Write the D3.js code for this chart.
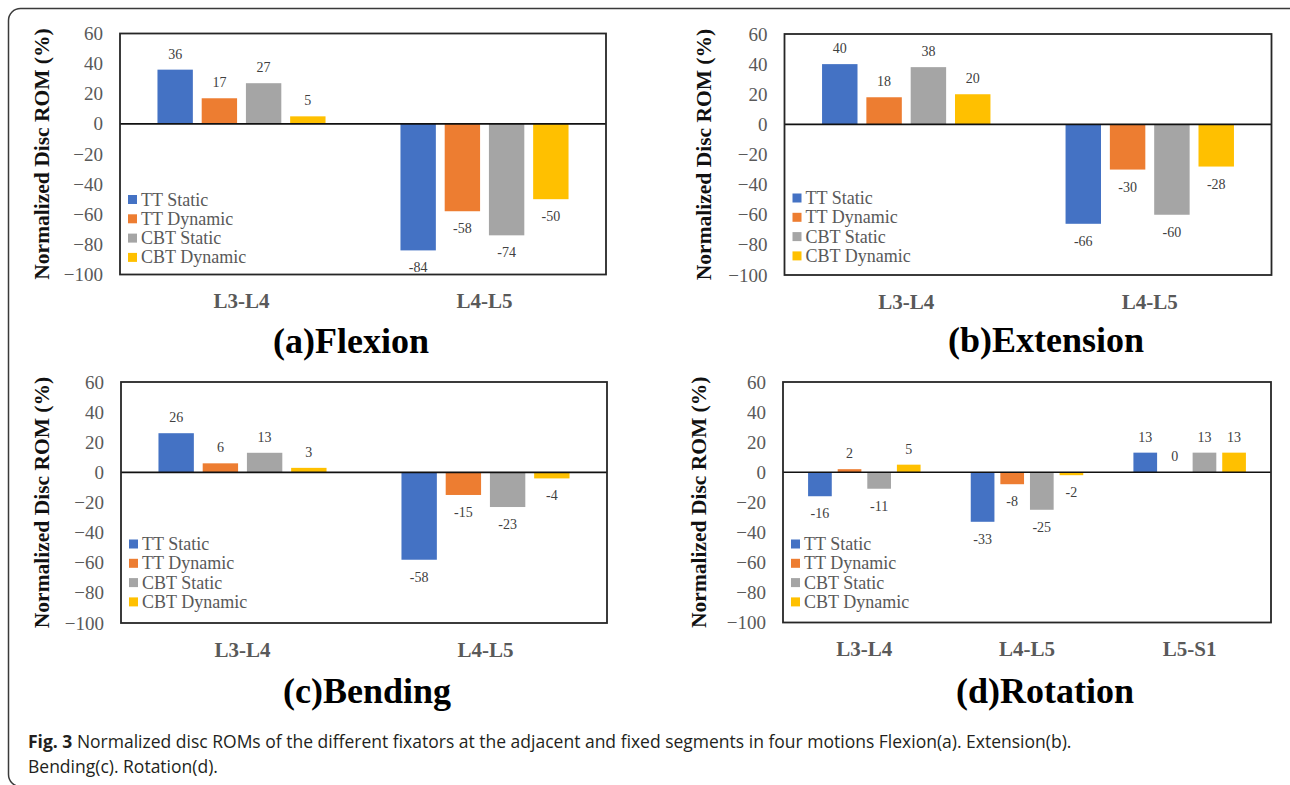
<!DOCTYPE html>
<html>
<head>
<meta charset="utf-8">
<script src="https://cdn.jsdelivr.net/npm/d3@7"></script>
<style>
  html, body { margin: 0; padding: 0; background: #fff; }
  svg { display: block; }
</style>
</head>
<body>
<svg id="chart" width="1290" height="785"></svg>
<script>
// ---------------- data ----------------
const series = ["TT Static", "TT Dynamic", "CBT Static", "CBT Dynamic"];
const seriesColors = ["#4472C4", "#ED7D31", "#A5A5A5", "#FFC000"];
const twoSegments = ["L3-L4", "L4-L5"];
const threeSegments = ["L3-L4", "L4-L5", "L5-S1"];
const yTicks = [60, 40, 20, 0, -20, -40, -60, -80, -100];

// values per segment, in series order
const flexionValues   = [[36, 17, 27, 5], [-84, -58, -74, -50]];
const extensionValues = [[40, 18, 38, 20], [-66, -30, -60, -28]];
const bendingValues   = [[26, 6, 13, 3], [-58, -15, -23, -4]];
const rotationValues  = [[-16, 2, -11, 5], [-33, -8, -25, -2], [13, 0, 13, 13]];

const panelTitles = ["(a)Flexion", "(b)Extension", "(c)Bending", "(d)Rotation"];
const yAxisTitle = "Normalized Disc ROM (%)";
const captionBold = "Fig. 3";
const captionLine1 = " Normalized disc ROMs of the different fixators at the adjacent and fixed segments in four motions Flexion(a). Extension(b).";
const captionLine2 = "Bending(c). Rotation(d).";

// ---------------- layout ----------------
const serif = "'Liberation Serif', 'Times New Roman', serif";
const panels = [
  { title: panelTitles[0], cats: twoSegments, values: flexionValues,
    x0: 120, x1: 606, y0: 33.5, y1: 274.5, tX: 351, tY: 353, yTitleX: 42, legY: 166 },
  { title: panelTitles[1], cats: twoSegments, values: extensionValues,
    x0: 784.5, x1: 1271.5, y0: 34, y1: 275, tX: 1046, tY: 352, yTitleX: 704, legY: 164 },
  { title: panelTitles[2], cats: twoSegments, values: bendingValues,
    x0: 121, x1: 607, y0: 382, y1: 623, tX: 367, tY: 703, yTitleX: 42, legY: 162 },
  { title: panelTitles[3], cats: threeSegments, values: rotationValues,
    x0: 783, x1: 1271, y0: 382, y1: 622.5, tX: 1045, tY: 703, yTitleX: 699, legY: 162 }
];

const svg = d3.select("#chart");

// outer rounded frame
svg.append("rect")
  .attr("x", 8.5).attr("y", 8.5)
  .attr("width", 1292).attr("height", 778)
  .attr("rx", 12).attr("ry", 12)
  .attr("fill", "none").attr("stroke", "#3a3a3a").attr("stroke-width", 1.5);

panels.forEach(p => {
  const g = svg.append("g");
  const y = d3.scaleLinear().domain([-100, 60]).range([p.y1, p.y0]);
  const xc = d3.scaleBand().domain(p.cats).range([p.x0, p.x1])
    .paddingInner(0.272).paddingOuter(0.136);
  const xs = d3.scaleBand().domain(series).range([0, xc.bandwidth()])
    .paddingInner(0.2).paddingOuter(0.1);

  const rows = [];
  p.cats.forEach((c, ci) => {
    series.forEach((s, si) => rows.push({ c, s, si, v: p.values[ci][si] }));
  });

  // bars
  g.selectAll("rect.bar").data(rows).enter().append("rect")
    .attr("class", "bar")
    .attr("x", d => xc(d.c) + xs(d.s))
    .attr("width", xs.bandwidth())
    .attr("y", d => y(Math.max(0, d.v)))
    .attr("height", d => Math.abs(y(d.v) - y(0)))
    .attr("fill", d => seriesColors[d.si]);

  // value labels
  g.selectAll("text.val").data(rows).enter().append("text")
    .attr("class", "val")
    .attr("x", d => xc(d.c) + xs(d.s) + xs.bandwidth() / 2)
    .attr("y", d => d.v >= 0 ? y(d.v) - 11 : y(d.v) + 22)
    .attr("text-anchor", "middle")
    .attr("font-family", serif).attr("font-size", 14)
    .attr("fill", "#404040")
    .text(d => d.v);

  // zero line
  g.append("line")
    .attr("x1", p.x0).attr("x2", p.x1)
    .attr("y1", y(0)).attr("y2", y(0))
    .attr("stroke", "#111").attr("stroke-width", 1.6);

  // plot frame
  g.append("rect")
    .attr("x", p.x0).attr("y", p.y0)
    .attr("width", p.x1 - p.x0).attr("height", p.y1 - p.y0)
    .attr("fill", "none").attr("stroke", "#262626").attr("stroke-width", 1.8);

  // y axis
  const ya = g.append("g").attr("transform", `translate(${p.x0},0)`)
    .call(d3.axisLeft(y).tickValues(yTicks).tickSize(0).tickPadding(17));
  ya.select(".domain").remove();
  ya.selectAll("text").attr("font-family", serif).attr("font-size", 19).attr("fill", "#595959");

  // x axis (category labels)
  const xa = g.append("g").attr("transform", `translate(0,${p.y1})`)
    .call(d3.axisBottom(xc).tickSize(0).tickPadding(19));
  xa.select(".domain").remove();
  xa.selectAll("text").attr("font-family", serif).attr("font-size", 21)
    .attr("font-weight", "bold").attr("fill", "#595959");

  // y axis title
  g.append("text")
    .attr("transform", `translate(${p.yTitleX},${(p.y0 + p.y1) / 2}) rotate(-90)`)
    .attr("text-anchor", "middle").attr("dominant-baseline", "central")
    .attr("font-family", serif).attr("font-size", 21.5).attr("font-weight", "bold")
    .attr("fill", "#111")
    .text(yAxisTitle);

  // legend
  const leg = g.append("g");
  series.forEach((s, i) => {
    const cy = p.y0 + p.legY + i * 19.3;
    leg.append("rect")
      .attr("x", p.x0 + 8).attr("y", cy - 4.5)
      .attr("width", 9).attr("height", 9)
      .attr("fill", seriesColors[i]);
    leg.append("text")
      .attr("x", p.x0 + 21).attr("y", cy + 6)
      .attr("font-family", serif).attr("font-size", 18)
      .attr("fill", "#595959")
      .text(s);
  });

  // panel title
  g.append("text")
    .attr("x", p.tX).attr("y", p.tY)
    .attr("text-anchor", "middle")
    .attr("font-family", serif).attr("font-size", 36).attr("font-weight", "bold")
    .attr("fill", "#000")
    .text(p.title);
});

// caption
const cap = svg.append("text")
  .attr("x", 28).attr("y", 748)
  .attr("font-family", "'Open Sans', 'Noto Sans', sans-serif")
  .attr("font-size", 17.5).attr("fill", "#231f20");
cap.append("tspan").attr("font-weight", "bold").text(captionBold);
cap.append("tspan").text(captionLine1);
svg.append("text")
  .attr("x", 28).attr("y", 773)
  .attr("font-family", "'Open Sans', 'Noto Sans', sans-serif")
  .attr("font-size", 17.5).attr("fill", "#231f20")
  .text(captionLine2);
</script>
</body>
</html>
